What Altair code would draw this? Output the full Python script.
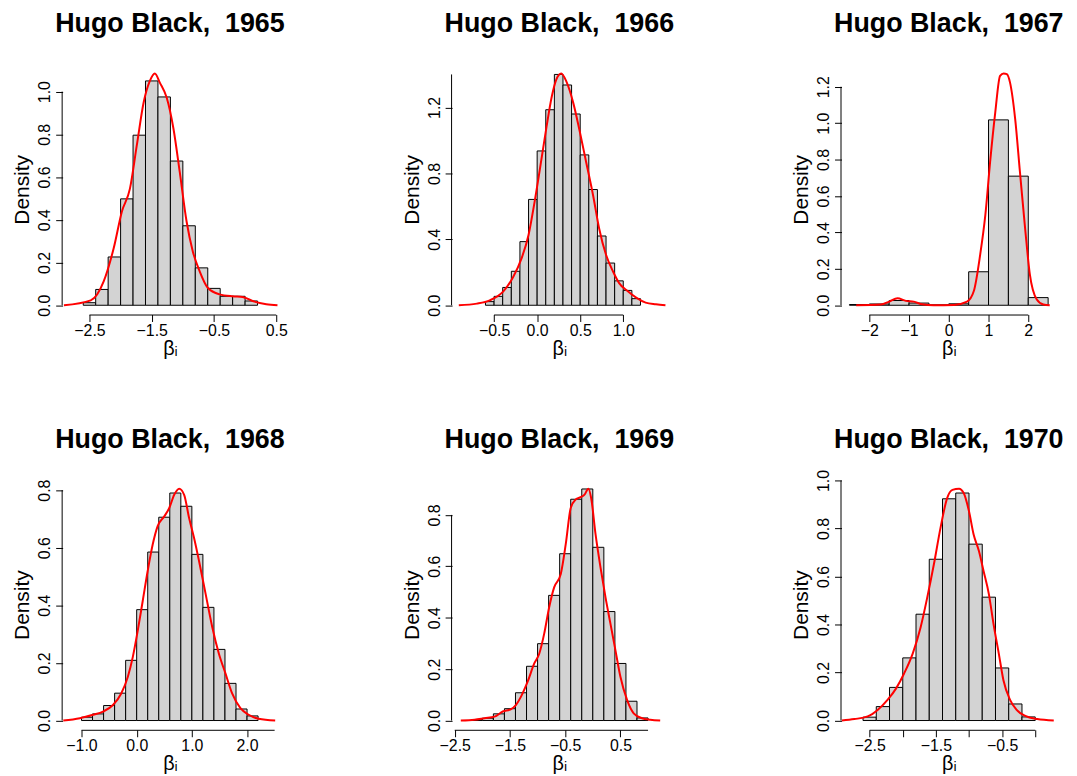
import altair as alt
import pandas as pd

FONT = "Liberation Sans"
judge = "Hugo Black"
years = [1965, 1966, 1967, 1968, 1969, 1970]

# ---- histogram: first break, bin width, bar densities ----
hist_start = [-2.6, -0.6, -2.5, -1.0, -2.2, -2.6]
hist_width = [0.2, 0.1, 0.5, 0.2, 0.2, 0.2]
hist_1965 = [0.012, 0.074, 0.226, 0.498, 0.796, 1.050, 0.975, 0.675, 0.372, 0.175, 0.079, 0.042, 0.042, 0.020]
hist_1966 = [0.022, 0.054, 0.108, 0.206, 0.386, 0.642, 0.936, 1.186, 1.40, 1.336, 1.16, 0.912, 0.702, 0.42,
             0.256, 0.148, 0.09, 0.04]
hist_1967 = [0.004, 0.007, 0.026, 0.012, 0.002, 0.008, 0.184, 1.018, 0.709, 0.042]
hist_1968 = [0.0115, 0.023, 0.052, 0.095, 0.209, 0.385, 0.585, 0.706, 0.790, 0.744, 0.577, 0.393, 0.247,
             0.129, 0.040, 0.016]
hist_1969 = [0.003, 0.009, 0.026, 0.046, 0.108, 0.211, 0.299, 0.487, 0.649, 0.861, 0.901, 0.674, 0.424,
             0.222, 0.075, 0.010]
hist_1970 = [0.014, 0.058, 0.138, 0.261, 0.443, 0.672, 0.924, 0.948, 0.735, 0.514, 0.219, 0.069, 0.015]

# ---- kernel density curves (x, density) ----
dx_1965 = [-2.91, -2.48, -2.27, -2.11, -1.98, -1.85, -1.74, -1.63, -1.53, -1.45, -1.37, -1.26, -1.15, -1.05,
           -0.94, -0.84, -0.73, -0.60, -0.41, -0.20, -0.04, 0.12, 0.34, 0.52]
dy_1965 = [0.0, 0.023, 0.113, 0.268, 0.438, 0.546, 0.748, 0.949, 1.05, 1.085, 1.042, 0.972, 0.825, 0.624,
           0.392, 0.252, 0.159, 0.082, 0.051, 0.042, 0.039, 0.020, 0.005, 0.0]
dx_1966 = [-0.91, -0.70, -0.55, -0.39, -0.28, -0.18, -0.10, -0.03, 0.05, 0.11, 0.17, 0.22, 0.28, 0.34, 0.42,
           0.49, 0.57, 0.65, 0.72, 0.80, 0.88, 0.95, 1.05, 1.15, 1.26, 1.38, 1.49]
dy_1966 = [0.0, 0.01, 0.03, 0.086, 0.17, 0.286, 0.426, 0.626, 0.886, 1.086, 1.266, 1.366, 1.406, 1.356, 1.226,
           1.066, 0.866, 0.666, 0.466, 0.306, 0.206, 0.136, 0.086, 0.046, 0.016, 0.006, 0.0]
dx_1967 = [-2.33, -1.71, -1.50, -1.29, -1.08, -0.88, -0.67, -0.38, 0.13, 0.46, 0.63, 0.79, 0.92, 1.04, 1.17,
           1.29, 1.38, 1.46, 1.54, 1.67, 1.79, 1.92, 2.04, 2.21, 2.38, 2.54]
dy_1967 = [0.0, 0.004, 0.02, 0.038, 0.024, 0.02, 0.005, 0.0, 0.002, 0.02, 0.078, 0.278, 0.496, 0.787, 1.06,
           1.26, 1.273, 1.269, 1.224, 1.024, 0.733, 0.424, 0.169, 0.033, 0.004, 0.0]
dx_1968 = [-1.33, -1.03, -0.79, -0.61, -0.43, -0.28, -0.16, -0.07, 0.02, 0.11, 0.20, 0.29, 0.38, 0.50, 0.59,
           0.68, 0.77, 0.86, 0.95, 1.04, 1.13, 1.25, 1.37, 1.49, 1.61, 1.73, 1.88, 2.03, 2.21, 2.51]
dy_1968 = [0.0, 0.008, 0.02, 0.031, 0.054, 0.094, 0.152, 0.221, 0.313, 0.416, 0.52, 0.611, 0.675, 0.709, 0.738,
           0.784, 0.805, 0.784, 0.703, 0.634, 0.554, 0.439, 0.324, 0.232, 0.163, 0.094, 0.043, 0.02, 0.006, 0.0]
dx_1969 = [-2.39, -2.14, -1.96, -1.78, -1.63, -1.48, -1.39, -1.30, -1.18, -1.06, -0.97, -0.88, -0.79, -0.70,
           -0.58, -0.49, -0.40, -0.31, -0.22, -0.15, -0.08, -0.03, 0.05, 0.14, 0.23, 0.32, 0.41, 0.50, 0.62,
           0.74, 0.89, 1.04, 1.22]
dy_1969 = [0.0, 0.003, 0.009, 0.015, 0.035, 0.044, 0.061, 0.093, 0.151, 0.222, 0.26, 0.338, 0.441, 0.518,
           0.57, 0.686, 0.827, 0.86, 0.869, 0.879, 0.902, 0.866, 0.724, 0.595, 0.479, 0.376, 0.273, 0.17, 0.08,
           0.028, 0.009, 0.003, 0.0]
dx_1970 = [-2.92, -2.73, -2.53, -2.38, -2.23, -2.10, -1.98, -1.85, -1.73, -1.63, -1.53, -1.43, -1.33, -1.25,
           -1.15, -1.08, -1.00, -0.93, -0.85, -0.78, -0.70, -0.63, -0.55, -0.48, -0.38, -0.28, -0.15, 0.03, 0.28]
dy_1970 = [0.0, 0.006, 0.017, 0.044, 0.086, 0.134, 0.196, 0.279, 0.389, 0.513, 0.651, 0.803, 0.927, 0.961,
           0.966, 0.948, 0.872, 0.775, 0.706, 0.623, 0.527, 0.403, 0.279, 0.168, 0.086, 0.044, 0.019, 0.006, 0.0]

hists = [hist_1965, hist_1966, hist_1967, hist_1968, hist_1969, hist_1970]
dens_x = [dx_1965, dx_1966, dx_1967, dx_1968, dx_1969, dx_1970]
dens_y = [dy_1965, dy_1966, dy_1967, dy_1968, dy_1969, dy_1970]

# ---- axes: x extent, tick values, labelled ticks ----
x_extent = [[-2.931, 0.516], [-0.988, 1.504], [-2.7, 2.7], [-1.342, 2.547], [-2.548, 1.337], [-2.925, 0.315]]
x_ticks = [[-2.5, -2.0, -1.5, -1.0, -0.5, 0.0, 0.5],
           [-0.5, 0.0, 0.5, 1.0],
           [-2, -1, 0, 1, 2],
           [-1.0, -0.5, 0.0, 0.5, 1.0, 1.5, 2.0, 2.5],
           [-2.5, -2.0, -1.5, -1.0, -0.5, 0.0, 0.5, 1.0],
           [-2.5, -2.0, -1.5, -1.0, -0.5, 0.0]]
x_labelled = [[-2.5, -1.5, -0.5, 0.5],
              [-0.5, 0.0, 0.5, 1.0],
              [-2, -1, 0, 1, 2],
              [-1.0, 0.0, 1.0, 2.0],
              [-2.5, -1.5, -0.5, 0.5],
              [-2.5, -1.5, -0.5]]
x_format = [".1f", ".1f", "d", ".1f", ".1f", ".1f"]
y_ticks = [[0.0, 0.2, 0.4, 0.6, 0.8, 1.0],
           [0.0, 0.2, 0.4, 0.6, 0.8, 1.0, 1.2, 1.4],
           [0.0, 0.2, 0.4, 0.6, 0.8, 1.0, 1.2],
           [0.0, 0.2, 0.4, 0.6, 0.8],
           [0.0, 0.2, 0.4, 0.6, 0.8],
           [0.0, 0.2, 0.4, 0.6, 0.8, 1.0]]
y_labelled = [[0.0, 0.2, 0.4, 0.6, 0.8, 1.0],
              [0.0, 0.4, 0.8, 1.2],
              [0.0, 0.2, 0.4, 0.6, 0.8, 1.0, 1.2],
              [0.0, 0.2, 0.4, 0.6, 0.8],
              [0.0, 0.2, 0.4, 0.6, 0.8],
              [0.0, 0.2, 0.4, 0.6, 0.8, 1.0]]

W, H = 216, 252


def label_expr(vals):
    ints = ",".join(str(int(round(v * 10))) for v in vals)
    return f"indexof([{ints}], round(datum.value*10)) >= 0 ? datum.label : ''"


def panel(i):
    h = hists[i]
    lo, w = hist_start[i], hist_width[i]
    bars = pd.DataFrame({
        "x0": [round(lo + k * w, 6) for k in range(len(h))],
        "x1": [round(lo + (k + 1) * w, 6) for k in range(len(h))],
        "d": h,
    })
    dens = pd.DataFrame({"x": dens_x[i], "y": dens_y[i]})
    ymax = max(max(h), max(dens_y[i]))
    xs = alt.Scale(domain=x_extent[i], nice=False, zero=False)
    ys = alt.Scale(domain=[-0.04 * ymax, 1.04 * ymax], nice=False, zero=False)

    xaxis = alt.Axis(values=x_ticks[i], format=x_format[i], labelExpr=label_expr(x_labelled[i]),
                     title="βᵢ")
    yaxis = alt.Axis(values=y_ticks[i], format=".1f", labelExpr=label_expr(y_labelled[i]),
                     title="Density")

    rects = alt.Chart(bars).mark_rect(fill="#D3D3D3", stroke="black", strokeWidth=1).encode(
        x=alt.X("x0:Q", scale=xs, axis=xaxis),
        x2="x1:Q",
        y=alt.Y("d:Q", scale=ys, axis=yaxis),
        y2=alt.datum(0),
    )
    line = alt.Chart(dens).mark_line(color="#FF0000", strokeWidth=2, interpolate="monotone").encode(
        x="x:Q", y="y:Q"
    )
    xline = alt.Chart(pd.DataFrame({"a": [x_ticks[i][0]], "b": [x_ticks[i][-1]]})).mark_rule(
        color="black", strokeWidth=1).encode(x="a:Q", x2="b:Q", y=alt.value(H + 0.5))
    yline = alt.Chart(pd.DataFrame({"a": [y_ticks[i][0]], "b": [y_ticks[i][-1]]})).mark_rule(
        color="black", strokeWidth=1).encode(y="a:Q", y2="b:Q", x=alt.value(-0.5))
    title = alt.Chart(pd.DataFrame({"t": [f"{judge},\u00a0 {years[i]}"]})).mark_text(
        font=FONT, fontSize=27, fontWeight="bold", color="black", align="center", baseline="alphabetic"
    ).encode(text="t:N", x=alt.value(W / 2), y=alt.value(-32))

    return alt.layer(rects, line, xline, yline, title).properties(width=W, height=H)


chart = alt.concat(*[panel(i) for i in range(6)], columns=3, spacing={"row": 166, "column": 176},
                   bounds="flush").properties(
    padding={"left": 4, "top": 0, "right": 5, "bottom": 5},
    background="white",
).configure_view(strokeWidth=0).configure_axis(
    labelFont=FONT, labelFontSize=16, labelColor="black",
    titleFont=FONT, titleFontSize=21, titleFontWeight="normal", titleColor="black",
    tickColor="black", tickSize=7, tickWidth=1, domain=False, grid=False,
    labelFlush=False, labelOverlap=False,
).configure_axisX(
    labelBaseline="top", labelPadding=1, titlePadding=0, titleFontSize=20,
).configure_axisY(
    labelAngle=270, labelAlign="center", labelBaseline="alphabetic", labelPadding=6, titlePadding=4,
)

chart.save("out.html", embed_options={"renderer": "svg", "actions": False})
